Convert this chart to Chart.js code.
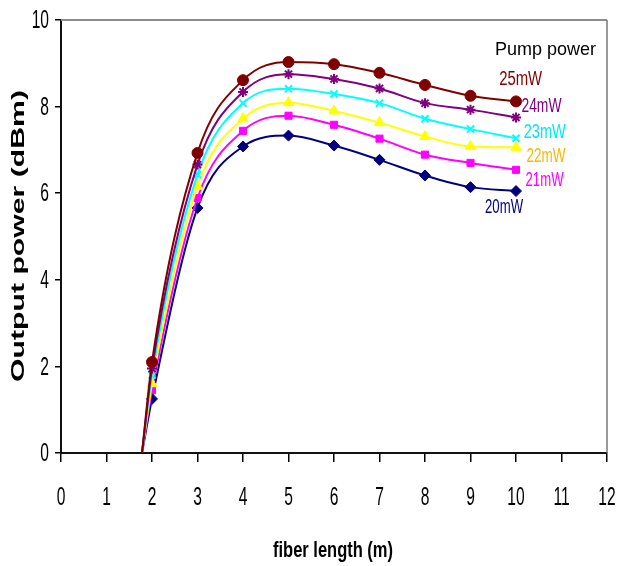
<!DOCTYPE html>
<html>
<head>
<meta charset="utf-8">
<script src="https://cdn.jsdelivr.net/npm/chart.js@4.4.1/dist/chart.umd.min.js"></script>
<style>
  html, body { margin: 0; padding: 0; background: #fff; }
  #wrap { width: 619px; height: 566px; }
</style>
</head>
<body>
<div id="wrap"><canvas id="powerChart" width="619" height="566"></canvas></div>
<script>
// fiber length (m) for each measurement, the first one is where output reaches 0 dBm
const fiberLength = [1.78, 2, 3, 4, 5, 6, 7, 8, 9, 10];

// output power (dBm) for each pump power
const pump25 = [0, 2.1, 6.93, 8.61, 9.03, 8.98, 8.78, 8.5, 8.25, 8.12];
const pump24 = [0, 1.95, 6.66, 8.34, 8.75, 8.64, 8.42, 8.08, 7.93, 7.75];
const pump23 = [0, 1.8, 6.43, 8.08, 8.41, 8.29, 8.08, 7.72, 7.48, 7.27];
const pump22 = [0, 1.6, 6.16, 7.72, 8.09, 7.9, 7.63, 7.31, 7.08, 7.06];
const pump21 = [0, 1.45, 5.89, 7.44, 7.79, 7.58, 7.26, 6.89, 6.7, 6.54];
const pump20 = [0, 1.25, 5.66, 7.08, 7.33, 7.1, 6.77, 6.41, 6.14, 6.05];

const xTicks = [0, 1, 2, 3, 4, 5, 6, 7, 8, 9, 10, 11, 12];
const yTicks = [0, 2, 4, 6, 8, 10];

const seriesLabels = ['25mW', '24mW', '23mW', '22mW', '21mW', '20mW'];

const FONT = '"Liberation Sans", Arial, sans-serif';

// text squeezed sideways (tall narrow lettering)
function squeezed(c, text, x, y, font, sx, align) {
    c.save();
    c.font = font;
    c.textAlign = align || 'center';
    c.translate(x, y);
    c.scale(sx, 1);
    c.fillText(text, 0, 0);
    c.restore();
}

function fitWidth(c, text, font, w) {
    c.font = font;
    return w / c.measureText(text).width;
}

function makeSet(label, values, color, style, radius) {
    return {
        label: label,
        data: values.map((v, i) => ({ x: fiberLength[i], y: v })),
        borderColor: color,
        backgroundColor: color,
        borderWidth: 2,
        pointStyle: style,
        pointRadius: values.map((v, i) => i === 0 ? 0 : radius),
        pointBorderWidth: style === 'star' || style === 'crossRot' ? 2 : 1,
        tension: 0.4,
        cubicInterpolationMode: 'monotone',
        fill: false
    };
}

// series names next to the curves, placed in data units
const tagText = ['Pump power', '25mW', '24mW', '23mW', '22mW', '21mW', '20mW'];
const tagColor = ['#000000', '#800000', '#800080', '#00e8f8', '#f8b800', '#ff00ff', '#000080'];
const tagX = [9.54, 9.63, 10.12, 10.17, 10.23, 10.21, 9.32];
const tagY = [9.32, 8.63, 8.0, 7.4, 6.85, 6.3, 5.68];
const tagW = [101, 43, 40, 42, 39, 38, 38];

const tagPlugin = {
    id: 'tags',
    afterDatasetsDraw(chart) {
        const c = chart.ctx;
        const xs = chart.scales.x, ys = chart.scales.y;
        c.save();
        c.textBaseline = 'middle';
        tagText.forEach((t, i) => {
            const f = (i === 0 ? '19px ' : '20px ') + FONT;
            c.fillStyle = tagColor[i];
            squeezed(c, t, xs.getPixelForValue(tagX[i]), ys.getPixelForValue(tagY[i]), f,
                fitWidth(c, t, f, tagW[i]), 'left');
        });
        c.restore();
    }
};

// grey frame on top/right, tick labels and axis titles in narrow lettering
const framePlugin = {
    id: 'frame',
    beforeDatasetsDraw(chart) {
        const c = chart.ctx, a = chart.chartArea;
        c.save();
        c.strokeStyle = '#8c8c8c';
        c.lineWidth = 2;
        c.beginPath();
        c.moveTo(a.left, a.top);
        c.lineTo(a.right, a.top);
        c.stroke();
        c.lineWidth = 1.5;
        c.strokeStyle = '#777';
        c.beginPath();
        c.moveTo(a.right, a.top);
        c.lineTo(a.right, a.bottom);
        c.stroke();
        c.restore();
    },
    afterDraw(chart) {
        const c = chart.ctx, a = chart.chartArea;
        const xs = chart.scales.x, ys = chart.scales.y;
        c.save();
        c.fillStyle = '#000';
        c.textBaseline = 'middle';
        const tickFont = '26px ' + FONT;
        xs.ticks.forEach(t => {
            squeezed(c, String(t.value), xs.getPixelForValue(t.value), 498, tickFont, 0.6, 'center');
        });
        ys.ticks.forEach(t => {
            squeezed(c, String(t.value), 49, ys.getPixelForValue(t.value) + 1, tickFont, 0.6, 'right');
        });

        // x title
        const xf = 'bold 22px ' + FONT;
        squeezed(c, 'fiber length (m)', 333, 551, xf, fitWidth(c, 'fiber length (m)', xf, 120), 'center');

        // y title
        const yf = 'bold 18px ' + FONT;
        c.save();
        c.translate(19, 236);
        c.rotate(-Math.PI / 2);
        squeezed(c, 'Output power (dBm)', 0, 0, yf, fitWidth(c, 'Output power (dBm)', yf, 292), 'center');
        c.restore();
        c.restore();
    }
};

new Chart(document.getElementById('powerChart').getContext('2d'), {
    type: 'line',
    data: {
        datasets: [
            makeSet(seriesLabels[0], pump25, '#800000', 'circle', 5.5),
            makeSet(seriesLabels[1], pump24, '#800080', 'star', 5),
            makeSet(seriesLabels[2], pump23, '#00ffff', 'crossRot', 5),
            makeSet(seriesLabels[3], pump22, '#ffff00', 'triangle', 6),
            makeSet(seriesLabels[4], pump21, '#ff00ff', 'rect', 5),
            makeSet(seriesLabels[5], pump20, '#000080', 'rectRot', 5.5)
        ]
    },
    options: {
        responsive: false,
        animation: false,
        events: [],
        layout: { padding: { left: 0, top: 20, right: 12, bottom: 0 } },
        plugins: {
            legend: { display: false },
            tooltip: { enabled: false }
        },
        scales: {
            x: {
                type: 'linear',
                min: 0,
                max: 12,
                afterFit(scale) { scale.height = 113; scale.paddingLeft = 0; scale.paddingRight = 0; },
                afterBuildTicks(scale) { scale.ticks = xTicks.map(v => ({ value: v })); },
                ticks: { display: false },
                grid: { drawOnChartArea: false, drawTicks: true, tickLength: 9, color: '#000', lineWidth: 1.5 },
                border: { display: true, color: '#111', width: 2 }
            },
            y: {
                type: 'linear',
                min: 0,
                max: 10,
                afterFit(scale) { scale.width = 61; scale.paddingTop = 0; scale.paddingBottom = 0; },
                afterBuildTicks(scale) { scale.ticks = yTicks.map(v => ({ value: v })); },
                ticks: { display: false },
                grid: { drawOnChartArea: false, drawTicks: true, tickLength: 6, color: '#000', lineWidth: 1.5 },
                border: { display: true, color: '#111', width: 2 }
            }
        }
    },
    plugins: [tagPlugin, framePlugin]
});
</script>
</body>
</html>
